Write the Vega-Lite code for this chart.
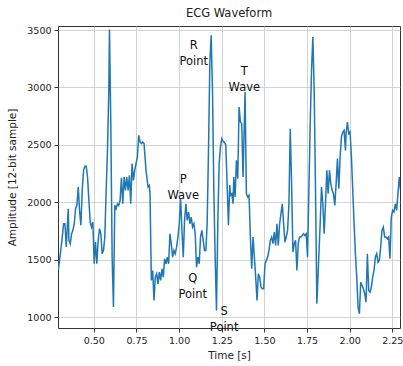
{
  "$schema": "https://vega.github.io/schema/vega-lite/v6.json",
  "width": 342,
  "height": 302,
  "autosize": {"type": "none"},
  "padding": {"left": 58, "top": 26, "right": 3, "bottom": 38},
  "background": "white",
  "config": {
    "font": "DejaVu Sans",
    "view": {"stroke": "#333333", "strokeWidth": 1},
    "axis": {
      "domain": false,
      "grid": true,
      "gridColor": "#c8c8c8",
      "gridWidth": 0.8,
      "tickColor": "#333333",
      "tickSize": 4,
      "labelFont": "DejaVu Sans",
      "labelFontSize": 9.5,
      "labelColor": "#222222",
      "labelPadding": 3,
      "titleFont": "DejaVu Sans",
      "titleFontSize": 10.5,
      "titleFontWeight": "normal",
      "titleColor": "#222222"
    },
    "title": {"font": "DejaVu Sans", "fontSize": 11.5, "fontWeight": "normal", "color": "#222222", "offset": 6}
  },
  "title": {"text": "ECG Waveform", "anchor": "middle"},
  "datasets": {
    "ecg": [
      {"t": 0.2917, "amp": 1406}, {"t": 0.3035, "amp": 1551}, {"t": 0.3151, "amp": 1697}, {"t": 0.3229, "amp": 1813},
      {"t": 0.3307, "amp": 1813}, {"t": 0.3385, "amp": 1610}, {"t": 0.3502, "amp": 1944}, {"t": 0.3541, "amp": 1668},
      {"t": 0.3619, "amp": 1639}, {"t": 0.3697, "amp": 1726}, {"t": 0.3774, "amp": 1755}, {"t": 0.3853, "amp": 1813},
      {"t": 0.3930, "amp": 1944}, {"t": 0.4008, "amp": 1973}, {"t": 0.4087, "amp": 2133}, {"t": 0.4164, "amp": 1929},
      {"t": 0.4242, "amp": 1799}, {"t": 0.4320, "amp": 2104}, {"t": 0.4398, "amp": 2278}, {"t": 0.4476, "amp": 2313},
      {"t": 0.4554, "amp": 2313}, {"t": 0.4632, "amp": 2220}, {"t": 0.4710, "amp": 2017}, {"t": 0.4788, "amp": 1828},
      {"t": 0.4866, "amp": 1784}, {"t": 0.4943, "amp": 1828}, {"t": 0.5022, "amp": 1464}, {"t": 0.5099, "amp": 1653},
      {"t": 0.5177, "amp": 1464}, {"t": 0.5255, "amp": 1668}, {"t": 0.5333, "amp": 1770}, {"t": 0.5411, "amp": 1726},
      {"t": 0.5489, "amp": 1552}, {"t": 0.5567, "amp": 1581}, {"t": 0.5645, "amp": 1697}, {"t": 0.5723, "amp": 2104},
      {"t": 0.5801, "amp": 2452}, {"t": 0.5878, "amp": 2975}, {"t": 0.5918, "amp": 3504}, {"t": 0.5995, "amp": 2685},
      {"t": 0.6074, "amp": 1522}, {"t": 0.6151, "amp": 1087}, {"t": 0.6229, "amp": 1973}, {"t": 0.6307, "amp": 1944},
      {"t": 0.6385, "amp": 1987}, {"t": 0.6463, "amp": 1973}, {"t": 0.6541, "amp": 2017}, {"t": 0.6619, "amp": 2214},
      {"t": 0.6697, "amp": 1987}, {"t": 0.6775, "amp": 2220}, {"t": 0.6853, "amp": 2104}, {"t": 0.6930, "amp": 2220},
      {"t": 0.7009, "amp": 2104}, {"t": 0.7087, "amp": 2234}, {"t": 0.7164, "amp": 1987}, {"t": 0.7243, "amp": 2336},
      {"t": 0.7320, "amp": 2191}, {"t": 0.7398, "amp": 2278}, {"t": 0.7476, "amp": 2336}, {"t": 0.7554, "amp": 2394},
      {"t": 0.7632, "amp": 2583}, {"t": 0.7710, "amp": 2525}, {"t": 0.7788, "amp": 2511}, {"t": 0.7866, "amp": 2525},
      {"t": 0.7944, "amp": 2511}, {"t": 0.8061, "amp": 2278}, {"t": 0.8178, "amp": 2133}, {"t": 0.8255, "amp": 2147},
      {"t": 0.8295, "amp": 2074}, {"t": 0.8372, "amp": 1319}, {"t": 0.8450, "amp": 1406}, {"t": 0.8528, "amp": 1145},
      {"t": 0.8606, "amp": 1348}, {"t": 0.8684, "amp": 1377}, {"t": 0.8762, "amp": 1290}, {"t": 0.8840, "amp": 1392},
      {"t": 0.8918, "amp": 1319}, {"t": 0.8996, "amp": 1421}, {"t": 0.9074, "amp": 1348}, {"t": 0.9151, "amp": 1508},
      {"t": 0.9230, "amp": 1464}, {"t": 0.9307, "amp": 1522}, {"t": 0.9385, "amp": 1464}, {"t": 0.9463, "amp": 1726},
      {"t": 0.9541, "amp": 1639}, {"t": 0.9619, "amp": 1522}, {"t": 0.9697, "amp": 1581}, {"t": 0.9775, "amp": 1552},
      {"t": 0.9853, "amp": 1610}, {"t": 0.9931, "amp": 1697}, {"t": 1.0009, "amp": 1813}, {"t": 1.0087, "amp": 2031},
      {"t": 1.0165, "amp": 1755}, {"t": 1.0243, "amp": 1522}, {"t": 1.0320, "amp": 1842}, {"t": 1.0399, "amp": 1987},
      {"t": 1.0476, "amp": 1842}, {"t": 1.0554, "amp": 1915}, {"t": 1.0632, "amp": 1813}, {"t": 1.0710, "amp": 1871},
      {"t": 1.0788, "amp": 1784}, {"t": 1.0866, "amp": 1813}, {"t": 1.0944, "amp": 1726}, {"t": 1.1022, "amp": 1435},
      {"t": 1.1100, "amp": 1522}, {"t": 1.1178, "amp": 1464}, {"t": 1.1256, "amp": 1697}, {"t": 1.1334, "amp": 1755},
      {"t": 1.1412, "amp": 1668}, {"t": 1.1489, "amp": 1581}, {"t": 1.1568, "amp": 1581}, {"t": 1.1645, "amp": 1813},
      {"t": 1.1723, "amp": 2452}, {"t": 1.1801, "amp": 3208}, {"t": 1.1879, "amp": 3455}, {"t": 1.1957, "amp": 2975},
      {"t": 1.2035, "amp": 2104}, {"t": 1.2113, "amp": 1522}, {"t": 1.2191, "amp": 1058}, {"t": 1.2269, "amp": 1813},
      {"t": 1.2347, "amp": 2336}, {"t": 1.2424, "amp": 2480}, {"t": 1.2503, "amp": 2554}, {"t": 1.2580, "amp": 2530},
      {"t": 1.2658, "amp": 2520}, {"t": 1.2736, "amp": 2500}, {"t": 1.2814, "amp": 2160}, {"t": 1.2892, "amp": 1800},
      {"t": 1.2970, "amp": 2150}, {"t": 1.3009, "amp": 2060}, {"t": 1.3087, "amp": 2075}, {"t": 1.3165, "amp": 1987},
      {"t": 1.3204, "amp": 2220}, {"t": 1.3282, "amp": 2046}, {"t": 1.3360, "amp": 2365}, {"t": 1.3438, "amp": 2205},
      {"t": 1.3516, "amp": 2830}, {"t": 1.3593, "amp": 2700}, {"t": 1.3671, "amp": 2685}, {"t": 1.3749, "amp": 2220},
      {"t": 1.3866, "amp": 2961}, {"t": 1.3944, "amp": 2075}, {"t": 1.4022, "amp": 2046}, {"t": 1.4100, "amp": 2060},
      {"t": 1.4178, "amp": 1697}, {"t": 1.4256, "amp": 1421}, {"t": 1.4334, "amp": 1697}, {"t": 1.4412, "amp": 1522},
      {"t": 1.4490, "amp": 1348}, {"t": 1.4568, "amp": 1145}, {"t": 1.4646, "amp": 1377}, {"t": 1.4724, "amp": 1348},
      {"t": 1.4802, "amp": 1261}, {"t": 1.4879, "amp": 1246}, {"t": 1.4958, "amp": 1246}, {"t": 1.5035, "amp": 1464},
      {"t": 1.5113, "amp": 1494}, {"t": 1.5191, "amp": 1522}, {"t": 1.5269, "amp": 1581}, {"t": 1.5347, "amp": 1668},
      {"t": 1.5425, "amp": 1697}, {"t": 1.5503, "amp": 1639}, {"t": 1.5581, "amp": 1741}, {"t": 1.5659, "amp": 1624},
      {"t": 1.5737, "amp": 1813}, {"t": 1.5815, "amp": 1624}, {"t": 1.5893, "amp": 1813}, {"t": 1.5971, "amp": 1900},
      {"t": 1.6049, "amp": 1987}, {"t": 1.6127, "amp": 1813}, {"t": 1.6205, "amp": 1653}, {"t": 1.6282, "amp": 1697},
      {"t": 1.6361, "amp": 1755}, {"t": 1.6438, "amp": 1987}, {"t": 1.6516, "amp": 2641}, {"t": 1.6594, "amp": 2162},
      {"t": 1.6672, "amp": 1566}, {"t": 1.6750, "amp": 1639}, {"t": 1.6828, "amp": 1668}, {"t": 1.6906, "amp": 1406},
      {"t": 1.6984, "amp": 1639}, {"t": 1.7062, "amp": 1697}, {"t": 1.7140, "amp": 1697}, {"t": 1.7218, "amp": 1711},
      {"t": 1.7296, "amp": 1726}, {"t": 1.7374, "amp": 1711}, {"t": 1.7452, "amp": 1726}, {"t": 1.7530, "amp": 1522},
      {"t": 1.7608, "amp": 2104}, {"t": 1.7686, "amp": 2685}, {"t": 1.7764, "amp": 3150}, {"t": 1.7841, "amp": 3440},
      {"t": 1.7919, "amp": 2975}, {"t": 1.7997, "amp": 2104}, {"t": 1.8075, "amp": 1116}, {"t": 1.8270, "amp": 1813},
      {"t": 1.8348, "amp": 2133}, {"t": 1.8426, "amp": 1987}, {"t": 1.8504, "amp": 1726}, {"t": 1.8582, "amp": 1987},
      {"t": 1.8660, "amp": 2278}, {"t": 1.8738, "amp": 2075}, {"t": 1.8816, "amp": 2278}, {"t": 1.8894, "amp": 2162},
      {"t": 1.8972, "amp": 2104}, {"t": 1.9050, "amp": 2075}, {"t": 1.9128, "amp": 1973}, {"t": 1.9206, "amp": 2162},
      {"t": 1.9283, "amp": 2380}, {"t": 1.9362, "amp": 2118}, {"t": 1.9439, "amp": 2394}, {"t": 1.9517, "amp": 2569},
      {"t": 1.9596, "amp": 2612}, {"t": 1.9673, "amp": 2627}, {"t": 1.9751, "amp": 2452}, {"t": 1.9790, "amp": 2598},
      {"t": 1.9868, "amp": 2699}, {"t": 1.9946, "amp": 2598}, {"t": 2.0024, "amp": 2612}, {"t": 2.0102, "amp": 2394},
      {"t": 2.0180, "amp": 2104}, {"t": 2.0258, "amp": 1813}, {"t": 2.0336, "amp": 1552}, {"t": 2.0414, "amp": 1348},
      {"t": 2.0491, "amp": 1087}, {"t": 2.0570, "amp": 1029}, {"t": 2.0647, "amp": 1304}, {"t": 2.0725, "amp": 1275},
      {"t": 2.0803, "amp": 1246}, {"t": 2.0881, "amp": 1203}, {"t": 2.0959, "amp": 1130}, {"t": 2.1037, "amp": 1552},
      {"t": 2.1115, "amp": 1232}, {"t": 2.1193, "amp": 1217}, {"t": 2.1271, "amp": 1261}, {"t": 2.1349, "amp": 1348},
      {"t": 2.1427, "amp": 1406}, {"t": 2.1505, "amp": 1522}, {"t": 2.1583, "amp": 1552}, {"t": 2.1661, "amp": 1479},
      {"t": 2.1739, "amp": 1494}, {"t": 2.1817, "amp": 1610}, {"t": 2.1894, "amp": 1755}, {"t": 2.1972, "amp": 1784},
      {"t": 2.2050, "amp": 1697}, {"t": 2.2128, "amp": 1697}, {"t": 2.2206, "amp": 1682}, {"t": 2.2284, "amp": 1697},
      {"t": 2.2362, "amp": 1508}, {"t": 2.2440, "amp": 1871}, {"t": 2.2518, "amp": 1929}, {"t": 2.2596, "amp": 1915},
      {"t": 2.2674, "amp": 1987}, {"t": 2.2752, "amp": 1929}, {"t": 2.2830, "amp": 2075}, {"t": 2.2908, "amp": 2220},
      {"t": 2.2986, "amp": 2104}
    ],
    "labels": [
      {"t": 1.0856, "amp": 3362, "label": "R\nPoint"},
      {"t": 1.3825, "amp": 3131, "label": "T\nWave"},
      {"t": 1.0240, "amp": 2197, "label": "P\nWave"},
      {"t": 1.0800, "amp": 1329, "label": "Q\nPoint"},
      {"t": 1.2640, "amp": 1042, "label": "S\nPoint"}
    ]
  },
  "layer": [
    {
      "data": {"name": "ecg"},
      "mark": {"type": "line", "color": "#1f77b4", "strokeWidth": 1.5, "clip": true},
      "encoding": {
        "x": {
          "field": "t", "type": "quantitative", "title": "Time [s]",
          "scale": {"domain": [0.29, 2.295], "nice": false, "zero": false},
          "axis": {"values": [0.5, 0.75, 1.0, 1.25, 1.5, 1.75, 2.0, 2.25], "format": ".2f", "titlePadding": 6}
        },
        "y": {
          "field": "amp", "type": "quantitative", "title": "Amplitude [12-bit sample]",
          "scale": {"domain": [905, 3535], "nice": false, "zero": false},
          "axis": {"values": [1000, 1500, 2000, 2500, 3000, 3500], "format": "d", "titlePadding": 9}
        }
      }
    },
    {
      "data": {"name": "labels"},
      "mark": {"type": "text", "lineBreak": "\n", "fontSize": 11.5, "lineHeight": 16, "align": "center", "baseline": "middle", "color": "#111111", "font": "DejaVu Sans"},
      "encoding": {
        "x": {"field": "t", "type": "quantitative"},
        "y": {"field": "amp", "type": "quantitative"},
        "text": {"field": "label", "type": "nominal"}
      }
    }
  ]
}
